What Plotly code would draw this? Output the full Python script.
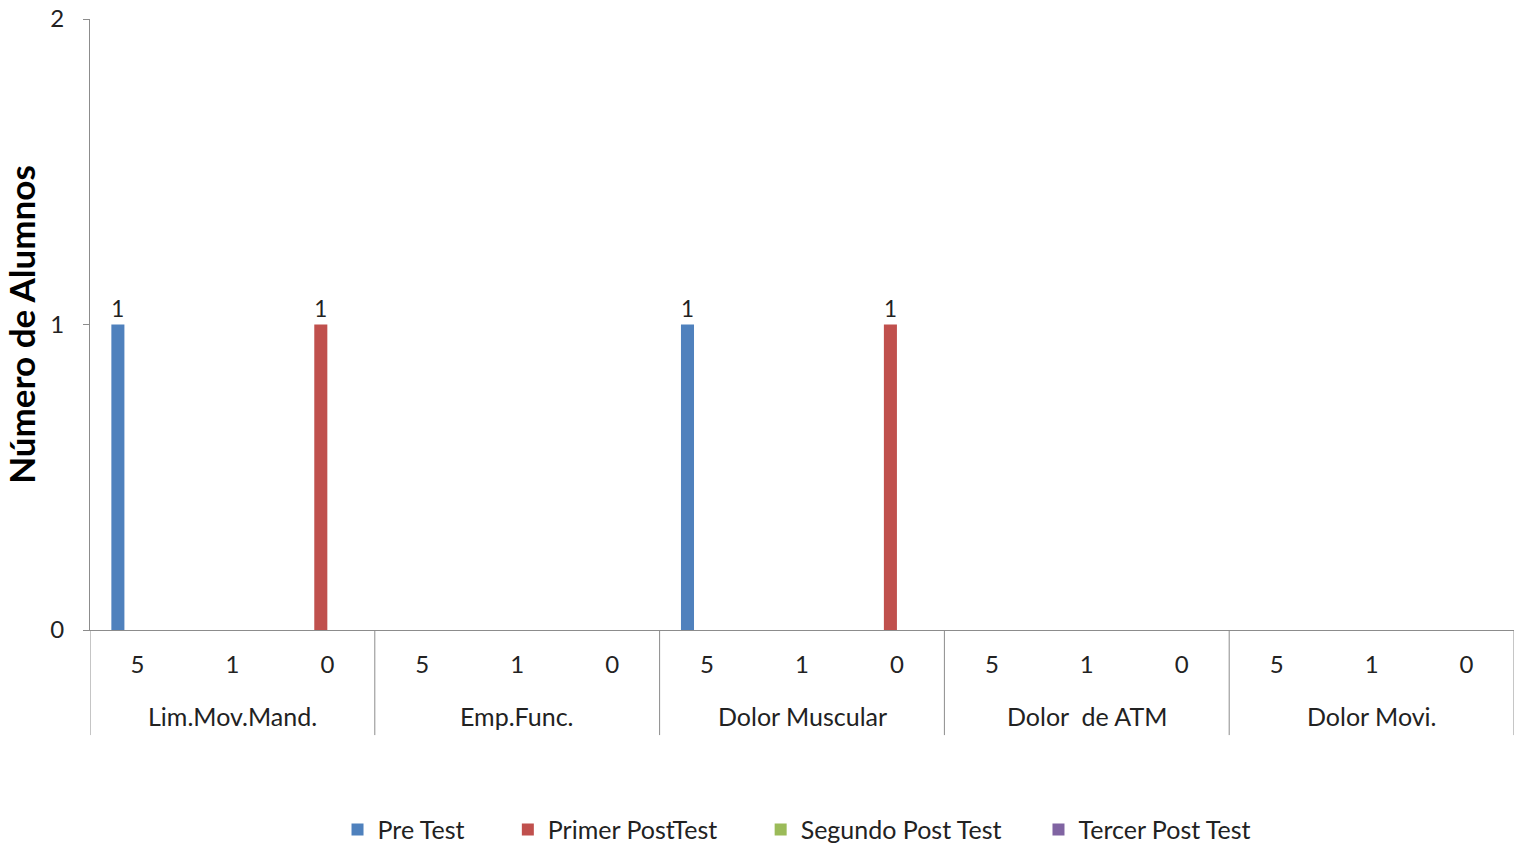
import plotly.graph_objects as go

groups = ["Lim.Mov.Mand.", "Emp.Func.", "Dolor Muscular", "Dolor  de ATM", "Dolor Movi."]
subcats = ["5", "1", "0"]
series_names = ["Pre Test", "Primer PostTest", "Segundo Post Test", "Tercer Post Test"]
pre_test = [1, 0, 0, 0, 0, 0, 1, 0, 0, 0, 0, 0, 0, 0, 0]
primer_post = [0, 0, 1, 0, 0, 0, 0, 0, 1, 0, 0, 0, 0, 0, 0]
segundo_post = [0] * 15
tercer_post = [0] * 15
colors = ["#4F81BD", "#C0504D", "#9BBB59", "#8064A2"]

cat_ids = [f"{g}|{s}" for g in groups for s in subcats]
inner_text = [s for _ in groups for s in subcats]

FONT = "Lato, 'Open Sans', sans-serif"
AXIS_COLOR = "#8c8c8c"
pads = [6, 6, 5, 0]

fig = go.Figure()
for i, (name, vals, col) in enumerate(zip(series_names, [pre_test, primer_post, segundo_post, tercer_post], colors)):
    fig.add_trace(go.Bar(
        x=cat_ids, y=vals, name=name + "\u00a0" * pads[i],
        marker_color=col, marker_line_width=0,
        text=[str(v) if v else "" for v in vals], textposition="outside",
        textfont=dict(size=24, color="#222"), cliponaxis=False,
    ))

n_sub = len(subcats)
for k in range(len(groups) + 1):
    fig.add_shape(type="line", xref="x", yref="paper", x0=k * n_sub - 0.5, x1=k * n_sub - 0.5,
                  y0=0, y1=-0.172, line=dict(color=AXIS_COLOR, width=1))
for k, g in enumerate(groups):
    fig.add_annotation(x=k * n_sub + (n_sub - 1) / 2, y=-0.140, xref="x", yref="paper",
                       text=g, showarrow=False, yanchor="middle",
                       font=dict(size=25, color="#222", family=FONT))

fig.update_layout(
    width=1520, height=846,
    margin=dict(l=90, r=6, t=19, b=216, autoexpand=False),
    paper_bgcolor="white", plot_bgcolor="white",
    barmode="group", bargap=0.45, bargroupgap=0,
    font=dict(family=FONT, size=24, color="#222"),
    showlegend=True,
    legend=dict(orientation="h", x=0.4965, xanchor="center", y=-0.327, yanchor="middle",
                font=dict(size=25), itemwidth=30, traceorder="normal"),
    xaxis=dict(type="category", tickvals=cat_ids, ticktext=inner_text, range=[-0.5, len(cat_ids) - 0.5],
               showline=True, linecolor=AXIS_COLOR, linewidth=1, automargin=False,
               showgrid=False, ticks="", ticklabelstandoff=13, tickfont=dict(size=24)),
    yaxis=dict(range=[0, 2], tickvals=[0, 1, 2], showline=True, linecolor=AXIS_COLOR, linewidth=1,
               ticks="outside", ticklen=6, tickcolor=AXIS_COLOR, showgrid=False, zeroline=False,
               automargin=False, ticklabelstandoff=14, tickfont=dict(size=24),
               title=dict(text="<b>Número de Alumnos</b>", font=dict(size=35, color="#000"), standoff=18)),
)
fig.write_html("out.html", config={"displayModeBar": False},
               post_script="document.body.style.margin='0';document.body.style.overflow='hidden';")
